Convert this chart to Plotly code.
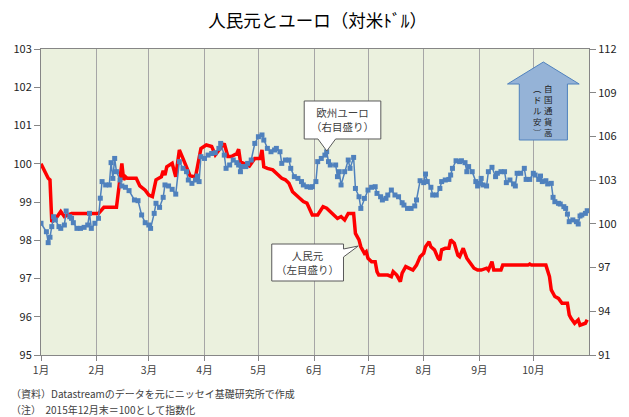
import plotly.graph_objects as go

# ---------------------------------------------------------------------------
# データ（2015年12月末=100として指数化）
# ---------------------------------------------------------------------------

MONTH_TICKS = ["2016-%02d-01" % m for m in range(1, 11)]
MONTH_LABELS = ["1月", "2月", "3月", "4月", "5月", "6月", "7月", "8月", "9月", "10月"]

cny_dates = [
    "2016-01-01", "2016-01-05", "2016-01-06", "2016-01-07", "2016-01-10", "2016-01-12",
    "2016-01-14", "2016-01-16", "2016-01-18", "2016-02-02", "2016-02-05", "2016-02-12",
    "2016-02-15", "2016-02-16", "2016-02-17", "2016-02-18", "2016-02-23", "2016-02-25",
    "2016-02-28", "2016-03-01", "2016-03-03", "2016-03-05", "2016-03-08", "2016-03-09",
    "2016-03-10", "2016-03-11", "2016-03-14", "2016-03-16", "2016-03-18", "2016-03-20",
    "2016-03-22", "2016-03-24", "2016-03-27", "2016-03-30", "2016-04-02", "2016-04-05",
    "2016-04-07", "2016-04-09", "2016-04-12", "2016-04-14", "2016-04-16", "2016-04-19",
    "2016-04-20", "2016-04-21", "2016-04-24", "2016-04-26", "2016-04-29", "2016-05-02",
    "2016-05-03", "2016-05-04", "2016-05-06", "2016-05-09", "2016-05-11", "2016-05-12",
    "2016-05-14", "2016-05-16", "2016-05-18", "2016-05-20", "2016-05-21", "2016-05-23",
    "2016-05-26", "2016-05-28", "2016-05-30", "2016-05-31", "2016-06-03", "2016-06-06",
    "2016-06-08", "2016-06-09", "2016-06-12", "2016-06-14", "2016-06-16", "2016-06-18",
    "2016-06-20", "2016-06-23", "2016-06-24", "2016-06-26", "2016-06-27", "2016-06-29",
    "2016-06-30", "2016-07-01", "2016-07-03", "2016-07-05", "2016-07-06", "2016-07-07",
    "2016-07-12", "2016-07-14", "2016-07-15", "2016-07-17", "2016-07-19", "2016-07-20",
    "2016-07-22", "2016-07-24", "2016-07-26", "2016-07-28", "2016-07-30", "2016-08-01",
    "2016-08-02", "2016-08-04", "2016-08-05", "2016-08-07", "2016-08-09", "2016-08-10",
    "2016-08-11", "2016-08-13", "2016-08-15", "2016-08-16", "2016-08-18", "2016-08-20",
    "2016-08-21", "2016-08-23", "2016-08-25", "2016-08-27", "2016-08-29", "2016-08-31",
    "2016-09-02", "2016-09-05", "2016-09-06", "2016-09-08", "2016-09-09", "2016-09-13",
    "2016-09-14", "2016-09-28", "2016-09-29", "2016-09-30", "2016-10-08", "2016-10-10",
    "2016-10-11", "2016-10-13", "2016-10-15", "2016-10-17", "2016-10-20", "2016-10-21",
    "2016-10-22", "2016-10-24", "2016-10-26", "2016-10-27", "2016-10-30", "2016-10-31",
]
cny_values = [
    100.00, 99.62, 99.58, 98.48, 98.62, 98.75,
    98.62, 98.66, 98.70, 98.70, 98.86, 98.86,
    100.01, 99.58, 99.66, 99.62, 99.62, 99.42,
    99.31, 99.18, 99.14, 99.58, 99.66, 99.82,
    99.70, 99.92, 100.01, 99.66, 100.36, 100.14,
    99.92, 99.68, 99.66, 100.40, 100.49, 100.45,
    100.23, 100.36, 100.53, 100.19, 100.19, 100.27,
    100.38, 100.05, 99.97, 99.94, 100.14, 100.14,
    100.36, 99.92, 99.88, 99.84, 99.75, 99.71,
    99.62, 99.58, 99.49, 99.27, 99.23, 99.14,
    99.01, 98.97, 98.79, 98.66, 98.66, 98.88,
    98.84, 98.79, 98.66, 98.57, 98.62, 98.53,
    98.70, 98.70, 98.18, 98.01, 97.83, 97.66,
    97.70, 97.53, 97.44, 97.44, 97.18, 97.09,
    97.09, 97.05, 97.18, 97.09, 96.92, 97.14,
    97.31, 97.27, 97.22, 97.35, 97.57, 97.66,
    97.83, 97.96, 97.83, 97.75, 97.53, 97.48,
    97.75, 97.79, 97.79, 98.01, 97.92, 97.61,
    97.57, 97.79, 97.53, 97.40, 97.27, 97.22,
    97.22, 97.27, 97.22, 97.44, 97.22, 97.22,
    97.35, 97.35, 97.38, 97.35, 97.35, 97.05,
    96.70, 96.53, 96.48, 96.35, 96.35, 96.05,
    95.96, 95.83, 95.92, 95.78, 95.83, 95.92,
]

eur_dates = [
    "2016-01-01", "2016-01-04", "2016-01-05", "2016-01-06", "2016-01-07", "2016-01-08",
    "2016-01-09", "2016-01-11", "2016-01-12", "2016-01-14", "2016-01-15", "2016-01-17",
    "2016-01-18", "2016-01-19", "2016-01-21", "2016-01-23", "2016-01-25", "2016-01-27",
    "2016-01-28", "2016-01-29", "2016-01-31", "2016-02-02", "2016-02-03", "2016-02-04",
    "2016-02-06", "2016-02-08", "2016-02-09", "2016-02-10", "2016-02-11", "2016-02-12",
    "2016-02-14", "2016-02-15", "2016-02-17", "2016-02-19", "2016-02-22", "2016-02-24",
    "2016-02-26", "2016-02-28", "2016-03-01", "2016-03-02", "2016-03-04", "2016-03-05",
    "2016-03-07", "2016-03-09", "2016-03-10", "2016-03-12", "2016-03-14", "2016-03-16",
    "2016-03-18", "2016-03-20", "2016-03-22", "2016-03-23", "2016-03-25", "2016-03-27",
    "2016-03-28", "2016-03-29", "2016-03-30", "2016-04-01", "2016-04-03", "2016-04-05",
    "2016-04-07", "2016-04-09", "2016-04-10", "2016-04-12", "2016-04-13", "2016-04-15",
    "2016-04-17", "2016-04-19", "2016-04-20", "2016-04-21", "2016-04-22", "2016-04-24",
    "2016-04-25", "2016-04-27", "2016-04-29", "2016-05-01", "2016-05-03", "2016-05-04",
    "2016-05-06", "2016-05-08", "2016-05-10", "2016-05-11", "2016-05-13", "2016-05-14",
    "2016-05-16", "2016-05-18", "2016-05-19", "2016-05-21", "2016-05-23", "2016-05-25",
    "2016-05-26", "2016-05-28", "2016-05-30", "2016-05-31", "2016-06-02", "2016-06-03",
    "2016-06-05", "2016-06-07", "2016-06-08", "2016-06-09", "2016-06-10", "2016-06-13",
    "2016-06-14", "2016-06-15", "2016-06-16", "2016-06-18", "2016-06-20", "2016-06-21",
    "2016-06-23", "2016-06-24", "2016-06-26", "2016-06-27", "2016-06-29", "2016-07-01",
    "2016-07-03", "2016-07-05", "2016-07-06", "2016-07-08", "2016-07-09", "2016-07-11",
    "2016-07-12", "2016-07-14", "2016-07-16", "2016-07-18", "2016-07-20", "2016-07-21",
    "2016-07-23", "2016-07-25", "2016-07-27", "2016-07-28", "2016-07-30", "2016-08-01",
    "2016-08-02", "2016-08-03", "2016-08-05", "2016-08-06", "2016-08-08", "2016-08-10",
    "2016-08-11", "2016-08-13", "2016-08-15", "2016-08-16", "2016-08-17", "2016-08-19",
    "2016-08-21", "2016-08-22", "2016-08-24", "2016-08-25", "2016-08-26", "2016-08-28",
    "2016-08-30", "2016-08-31", "2016-09-01", "2016-09-02", "2016-09-03", "2016-09-05",
    "2016-09-06", "2016-09-08", "2016-09-10", "2016-09-11", "2016-09-13", "2016-09-15",
    "2016-09-16", "2016-09-18", "2016-09-20", "2016-09-21", "2016-09-22", "2016-09-24",
    "2016-09-26", "2016-09-27", "2016-09-29", "2016-10-01", "2016-10-02", "2016-10-04",
    "2016-10-05", "2016-10-06", "2016-10-08", "2016-10-09", "2016-10-11", "2016-10-12",
    "2016-10-13", "2016-10-15", "2016-10-16", "2016-10-18", "2016-10-19", "2016-10-20",
    "2016-10-21", "2016-10-23", "2016-10-25", "2016-10-26", "2016-10-27", "2016-10-28",
    "2016-10-30", "2016-10-31",
]
eur_values = [
    100.04, 99.46, 98.71, 99.08, 99.81, 100.49,
    100.27, 99.81, 99.69, 99.92, 100.88, 100.49,
    100.38, 100.08, 99.69, 99.69, 99.76, 99.92,
    100.72, 99.69, 100.04, 100.38, 101.76, 102.90,
    102.67, 102.67, 104.20, 103.12, 104.49, 103.58,
    103.01, 102.60, 102.51, 102.28, 101.64, 101.59,
    100.61, 100.08, 99.92, 99.69, 100.72, 101.41,
    101.13, 101.82, 102.67, 102.60, 102.37, 102.04,
    104.27, 103.81, 103.58, 103.01, 102.78, 103.01,
    103.28, 102.90, 104.61, 104.49, 104.72, 104.83,
    104.88, 105.18, 105.52, 104.72, 103.81, 104.04,
    104.38, 104.20, 104.04, 103.58, 103.93, 103.93,
    104.15, 104.38, 105.52, 105.98, 106.10, 105.75,
    105.18, 104.95, 105.07, 105.18, 104.95, 104.15,
    104.38, 104.38, 103.81, 103.24, 103.12, 102.90,
    102.67, 102.55, 102.51, 102.55, 102.90, 104.27,
    104.49, 104.72, 104.95, 104.27, 104.04, 104.04,
    103.24, 103.58, 102.67, 103.58, 104.38, 103.81,
    104.56, 102.43, 101.86, 101.06, 101.75, 102.32,
    102.51, 102.55, 102.09, 101.86, 101.64, 101.75,
    101.98, 102.32, 101.98, 101.86, 101.45, 101.29,
    101.06, 101.06, 101.23, 101.64, 102.96, 102.83,
    103.42, 102.90, 102.51, 101.98, 101.98, 102.43,
    102.90, 103.01, 103.05, 103.35, 103.81, 104.33,
    104.27, 104.33, 104.20, 103.58, 103.93, 103.58,
    102.90, 102.60, 102.78, 103.12, 102.67, 102.60,
    103.58, 103.88, 103.24, 103.47, 103.58, 103.58,
    102.83, 103.01, 102.74, 102.60, 103.47, 103.47,
    103.81, 103.05, 103.05, 103.47, 103.35, 103.05,
    103.28, 102.90, 102.96, 102.74, 102.78, 101.82,
    101.52, 101.41, 101.36, 101.18, 101.06, 100.67,
    100.15, 100.27, 100.15, 99.99, 100.54, 100.61,
    100.72, 100.90,
]

# ---------------------------------------------------------------------------
# 見た目の設定
# ---------------------------------------------------------------------------

FONT = "Noto Sans CJK JP"
TXT = "#404040"
AXIS = "#868686"
W, H = 629, 417
L, R, T, B = 41, 30, 49, 62
PW, PH = W - L - R, H - T - B


def px(x):
    return (x - L) / PW


def py(y):
    return (H - B - y) / PH


def path(points):
    return "M " + " L ".join(f"{px(x):.4f},{py(y):.4f}" for x, y in points) + " Z"


fig = go.Figure()

fig.add_trace(go.Scatter(
    x=cny_dates, y=cny_values, mode="lines", name="人民元",
    line=dict(color="#FF0000", width=3.5), yaxis="y",
))
fig.add_trace(go.Scatter(
    x=eur_dates, y=eur_values, mode="lines+markers", name="欧州ユーロ",
    line=dict(color="#4F81BD", width=1.5),
    marker=dict(symbol="square", size=5, color="#4F81BD"),
    yaxis="y2",
))

shapes = [
    # 欧州ユーロの吹き出し
    dict(type="path", xref="paper", yref="paper",
         path=path([(309, 101), (387, 101), (387, 139), (341, 139), (332, 151), (323, 139), (309, 139)]),
         fillcolor="white", line=dict(color="#595959", width=1)),
    # 人民元の吹き出し
    dict(type="path", xref="paper", yref="paper",
         path=path([(276, 244), (349, 244), (349, 249), (364, 246), (349, 257), (349, 281), (276, 281)]),
         fillcolor="white", line=dict(color="#595959", width=1)),
    # 自国通貨高の矢印
    dict(type="path", xref="paper", yref="paper",
         path=path([(552.5, 62), (589, 84), (577, 84), (577, 140), (528, 140), (528, 84), (516, 84)]),
         fillcolor="#95B3D7", line=dict(color="#4F81BD", width=1)),
]

VT = dict(size=8.5, color="#222", family=FONT)
NOTE = dict(size=10, color=TXT, family=FONT)
annotations = [
    dict(x=px(348), y=py(120), text="欧州ユーロ<br>（右目盛り）"),
    dict(x=px(312.5), y=py(262.5), text="人民元<br>（左目盛り）"),
    dict(x=px(558), y=py(110), text="自<br>国<br>通<br>貨<br>高", font=VT),
    dict(x=px(547), y=py(110), text="︵<br>ド<br>ル<br>安<br>︶", font=VT),
    dict(x=px(8), y=py(393), text="（資料）Datastreamのデータを元にニッセイ基礎研究所で作成",
         xanchor="left", align="left", font=NOTE),
    dict(x=px(8), y=py(409), text="（注）  2015年12月末＝100として指数化",
         xanchor="left", align="left", font=NOTE),
]
for a in annotations:
    a.setdefault("xanchor", "center")
    a.setdefault("align", "center")
    a.setdefault("font", dict(size=10.5, color=TXT, family=FONT))
    a.update(xref="paper", yref="paper", yanchor="middle", showarrow=False)

fig.update_layout(
    width=W, height=H,
    margin=dict(l=L, r=R, t=T, b=B),
    paper_bgcolor="white",
    plot_bgcolor="#EBF1DE",
    showlegend=False,
    font=dict(family=FONT, size=11, color=TXT),
    title=dict(text="人民元とユーロ（対米ﾄﾞﾙ）", x=0.505, xanchor="center", y=1 - 21 / H,
               yanchor="middle", font=dict(size=17.5, color="#000", family=FONT)),
    xaxis=dict(
        type="date", range=["2016-01-01", "2016-11-01"],
        tickvals=MONTH_TICKS, ticktext=MONTH_LABELS,
        showgrid=True, gridcolor="#A6A6A6", gridwidth=1,
        showline=True, mirror=True, linecolor=AXIS,
        ticks="outside", ticklen=5, tickcolor=AXIS,
        tickfont=dict(size=10.5, color=TXT),
    ),
    yaxis=dict(
        range=[95, 103], dtick=1, showgrid=False, zeroline=False,
        showline=True, linecolor=AXIS, ticks="outside", ticklen=6, tickcolor=AXIS,
        tickfont=dict(size=11, color="#222"),
    ),
    yaxis2=dict(
        range=[91, 112], tickvals=list(range(91, 113, 3)), overlaying="y", side="right",
        showgrid=False, zeroline=False,
        showline=True, linecolor=AXIS, ticks="outside", ticklen=6, tickcolor=AXIS,
        tickfont=dict(size=11, color="#222"),
    ),
    shapes=shapes,
    annotations=annotations,
)

# ページ既定の余白(8px)を消して 629x417 にぴったり収める
fig.write_html(
    "out.html",
    config={"displayModeBar": False},
    post_script="document.body.style.margin='0';",
)
